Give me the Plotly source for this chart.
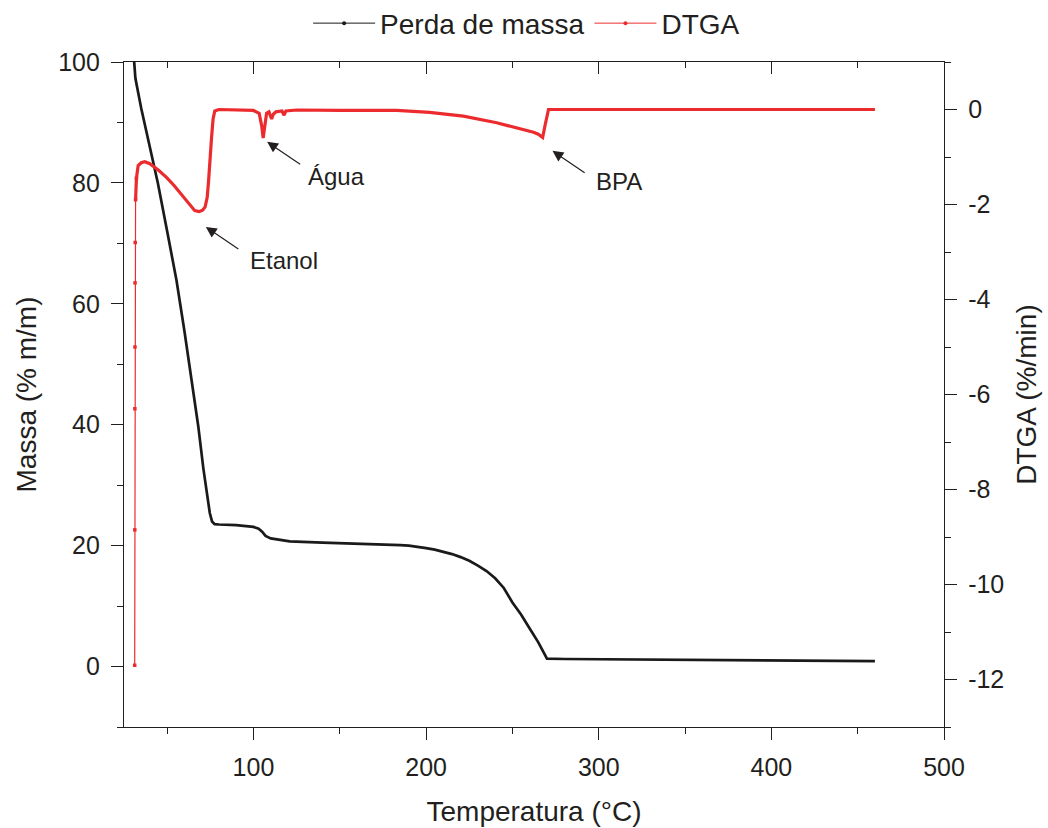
import plotly.graph_objects as go

# ---- Data ----
temp_mass = [30.9, 31.1, 31.6, 35, 40, 44.6, 50, 55.4, 60, 64, 68, 71, 73, 74.7, 76, 77.5,
             80, 90, 100, 103, 105, 107, 110, 115, 121, 140, 170, 185, 190, 195, 200, 205,
             210, 215, 220, 225, 230, 235, 240, 245, 250, 255, 260, 262, 265, 268, 270,
             280, 300, 350, 400, 460]
massa = [100, 98.5, 97.3, 92.3, 86.0, 80.0, 72.0, 63.9, 55.5, 47.5, 39.8, 32.7, 28.6, 25.4, 24.0, 23.55,
         23.5, 23.4, 23.1, 22.8, 22.3, 21.6, 21.2, 21.0, 20.7, 20.5, 20.3, 20.1, 20.0, 19.85, 19.6, 19.35,
         19.0, 18.6, 18.1, 17.5, 16.7, 15.8, 14.6, 13.0, 10.6, 8.6, 6.3, 5.4, 4.0, 2.4, 1.3,
         1.25, 1.2, 1.1, 1.0, 0.9]

temp_dtga = [31.2, 31.25, 31.3, 31.35, 31.4, 31.5, 31.7, 32.2, 33.2, 35, 37, 40, 45, 49.6,
             54, 59.2, 63, 66, 68.5, 70.5, 72, 73.2, 74, 74.8, 75.7, 76.6, 77.6,
             80, 90, 100, 103.3, 104.8, 105.6, 106.3, 107.6, 109, 110.5, 111.5, 113,
             116.5, 117.6, 118.8, 125, 150, 183, 202, 221.6, 240.9, 254.4, 262.2, 265,
             267.5, 269.1, 270.9, 300, 350, 400, 460]
dtga = [-11.7, -8.85, -6.3, -5.0, -3.65, -2.8, -1.9, -1.45, -1.18, -1.12, -1.1, -1.14, -1.28, -1.43,
        -1.6, -1.83, -2.0, -2.13, -2.15, -2.12, -2.05, -1.85, -1.5, -1.0, -0.6, -0.2, -0.03,
        0.0, -0.01, -0.02, -0.08, -0.35, -0.6, -0.4, -0.08, -0.05, -0.2, -0.1, -0.05,
        -0.03, -0.12, -0.03, -0.01, -0.02, -0.02, -0.06, -0.14, -0.28, -0.4, -0.48, -0.52,
        -0.59, -0.3, 0.0, 0.0, 0.0, 0.0, 0.0]
# the initial fast rise of DTGA is drawn as a thin line (sparse points in the original)
RISE_END = 8

# tick labels
x_ticks = [100, 200, 300, 400, 500]
y_ticks = [0, 20, 40, 60, 80, 100]
y2_ticks = [0, -2, -4, -6, -8, -10, -12]
y2_ticktext = ["0", "-2", "-4", "-6", "-8", "-10", "-12"]

# annotation labels: (text, tip T, tip mass, tail T, tail mass, text T, text mass)
labels = [
    ("Etanol", 72.4, 72.7, 92.1, 68.9, 117.6, 67.1),
    ("Água", 107.9, 86.8, 127.9, 82.9, 148.3, 81.0),
    ("BPA", 273.2, 85.3, 292.7, 81.5, 311.9, 80.3),
]

FONT = "Liberation Sans, Arial, sans-serif"
TXT = "#231f20"
AX = "#231f20"
BLACK = "#1a1a1a"
RED = "#ec2b2e"

fig = go.Figure()
fig.add_trace(go.Scatter(
    x=temp_mass, y=massa, name="Perda de massa", mode="lines",
    line=dict(color=BLACK, width=2.7), showlegend=False,
    xaxis="x", yaxis="y"))
fig.add_trace(go.Scatter(
    x=temp_dtga[:RISE_END], y=dtga[:RISE_END], name="DTGA", mode="lines+markers",
    line=dict(color=RED, width=1.2),
    marker=dict(color=RED, size=3.5, symbol="square"), showlegend=False,
    xaxis="x", yaxis="y2"))
fig.add_trace(go.Scatter(
    x=temp_dtga[RISE_END - 2:], y=dtga[RISE_END - 2:], name="DTGA", mode="lines",
    line=dict(color=RED, width=3.2), showlegend=False,
    xaxis="x", yaxis="y2"))
# legend entries (thin line + small dot, as in the reference)
fig.add_trace(go.Scatter(x=[None], y=[None], name="Perda de massa", mode="lines+markers",
                         line=dict(color=BLACK, width=1), marker=dict(color=BLACK, size=4),
                         xaxis="x", yaxis="y"))
fig.add_trace(go.Scatter(x=[None], y=[None], name="DTGA", mode="lines+markers",
                         line=dict(color=RED, width=1), marker=dict(color=RED, size=4),
                         xaxis="x", yaxis="y2"))
# helper trace for top mirror axis
fig.add_trace(go.Scatter(x=[None], y=[None], xaxis="x2", yaxis="y",
                         showlegend=False, hoverinfo="skip"))

for text, tx, ty, ax_, ay_, lx, ly in labels:
    fig.add_annotation(x=tx, y=ty, ax=ax_, ay=ay_, xref="x", yref="y",
                       axref="x", ayref="y", text="", showarrow=True,
                       arrowhead=2, arrowsize=1.8, arrowwidth=1.2, arrowcolor=TXT)
    fig.add_annotation(x=lx, y=ly, xref="x", yref="y", text=text, showarrow=False,
                       font=dict(family=FONT, size=24, color=TXT),
                       xanchor="center", yanchor="middle")

common_x = dict(range=[25, 500], showline=True, linecolor=AX, linewidth=1.3,
                showgrid=False, zeroline=False)

fig.update_layout(
    width=1048, height=828,
    margin=dict(l=124, r=104, t=62, b=101, autoexpand=False),
    paper_bgcolor="white", plot_bgcolor="white",
    font=dict(family=FONT, color=TXT, size=25),
    showlegend=True,
    legend=dict(orientation="h", x=0.491, xanchor="center", y=1.058, yanchor="middle",
                itemwidth=62, font=dict(family=FONT, size=28, color=TXT),
                bgcolor="rgba(0,0,0,0)"),
    xaxis=dict(**common_x, ticks="outside", ticklen=12, tickwidth=1.3, tickcolor=AX,
               tickvals=x_ticks, ticklabelstandoff=6,
               minor=dict(ticks="outside", ticklen=6, tickwidth=1.3, tickcolor=AX, dtick=50, tick0=0),
               title=dict(text="Temperatura (°C)", font=dict(size=28), standoff=21),
               tickfont=dict(size=25)),
    xaxis2=dict(**common_x, overlaying="x", side="top", anchor="y", ticks="inside",
                ticklen=12, tickwidth=1.3, tickcolor=AX, tickvals=x_ticks,
                showticklabels=False,
                minor=dict(ticks="inside", ticklen=6, tickwidth=1.3, tickcolor=AX, dtick=50, tick0=0)),
    yaxis=dict(range=[-10, 100], showline=True, linecolor=AX, linewidth=1.3,
               showgrid=False, zeroline=False, ticks="outside", ticklen=12, tickwidth=1.3,
               tickcolor=AX, tickvals=y_ticks, ticklabelstandoff=6,
               minor=dict(ticks="outside", ticklen=6, tickwidth=1.3, tickcolor=AX, dtick=10, tick0=0),
               title=dict(text="Massa (% m/m)", font=dict(size=28), standoff=13),
               tickfont=dict(size=25)),
    yaxis2=dict(range=[-13, 1], overlaying="y", side="right", anchor="x",
                showline=True, linecolor=AX, linewidth=1.3, showgrid=False, zeroline=False,
                ticks="outside", ticklen=12, tickwidth=1.3, tickcolor=AX,
                tickvals=y2_ticks, ticktext=y2_ticktext, ticklabelstandoff=6,
                minor=dict(ticks="outside", ticklen=6, tickwidth=1.3, tickcolor=AX, dtick=1, tick0=0),
                title=dict(text="DTGA (%/min)", font=dict(size=28), standoff=13),
                tickfont=dict(size=25)),
)

fig.write_html("out.html")
